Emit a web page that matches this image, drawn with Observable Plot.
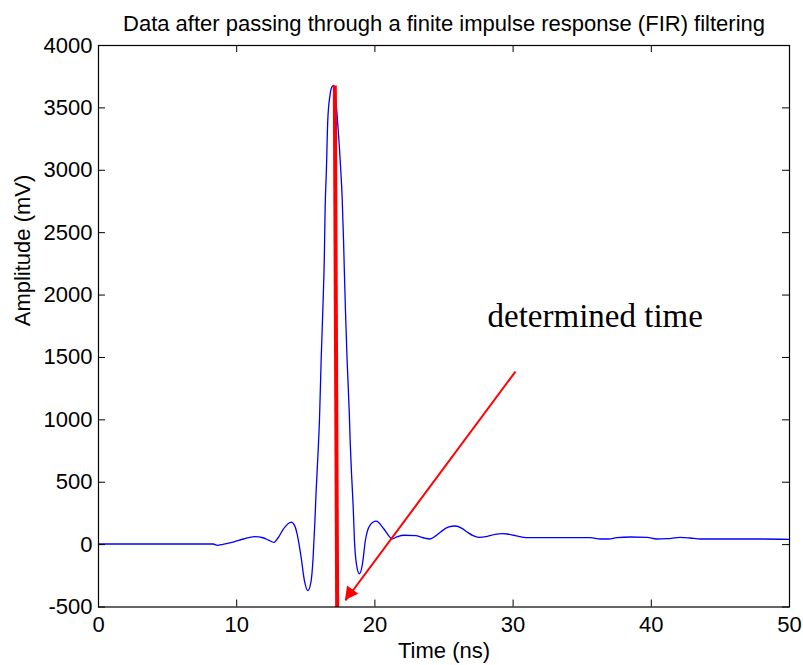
<!DOCTYPE html>
<html>
<head>
<meta charset="utf-8">
<script src="https://cdn.jsdelivr.net/npm/d3@7"></script>
<script src="https://cdn.jsdelivr.net/npm/@observablehq/plot@0.6"></script>
<style>
  body { margin: 0; background: #fff; }
  #chart svg { display: block; }
</style>
</head>
<body>
<div id="chart"></div>
<script>
// ---- data ----
const titleText = "Data after passing through a finite impulse response (FIR) filtering";
const xLabel = "Time (ns)";
const yLabel = "Amplitude (mV)";
const xTicks = [0, 10, 20, 30, 40, 50];
const yTicks = [-500, 0, 500, 1000, 1500, 2000, 2500, 3000, 3500, 4000];

const timeNs = [0, 8.3, 8.6, 9.0, 9.8, 10.5, 11.3, 11.9, 12.3, 12.7, 13.0, 13.4, 13.94, 14.2, 14.37, 14.66, 14.9, 15.15, 15.39, 15.53, 15.65, 15.75, 15.87, 15.99, 16.11, 16.23, 16.34, 16.4, 16.49, 16.59, 16.75, 16.9, 17.03, 17.12, 17.2, 17.32, 17.43, 17.53, 17.63, 17.73, 17.8, 17.87, 17.99, 18.14, 18.22, 18.31, 18.43, 18.52, 18.66, 18.88, 19.1, 19.31, 19.63, 20.09, 20.64, 21.08, 21.24, 21.6, 22.1, 22.94, 23.5, 23.97, 24.4, 24.75, 25.3, 25.83, 26.3, 26.67, 27.1, 27.52, 28.13, 28.7, 29.2, 29.6, 30.04, 30.9, 35.6, 36.3, 36.9, 37.5, 38.5, 39.7, 40.4, 41.15, 42.1, 42.8, 43.56, 45.97, 47.9, 50];
const amplitudeMv = [5, 5, -6, 2, 22, 45, 64, 55, 36, 18, 55, 128, 180, 150, 86, -101, -288, -368, -288, -101, 167, 434, 700, 1000, 1475, 1876, 2300, 2700, 3000, 3400, 3600, 3670, 3680, 3620, 3530, 3360, 3184, 3000, 2784, 2440, 2150, 1876, 1475, 1075, 800, 567, 300, 33, -154, -234, -154, 33, 153, 188, 127, 60, 46, 62, 75, 72, 55, 45, 70, 101, 140, 149, 130, 101, 72, 58, 66, 82, 88, 85, 75, 56, 56, 45, 45, 56, 61, 58, 45, 48, 58, 53, 45, 45, 45, 42];

// annotation: determined-time marker and arrow (data units)
const markerTime = [17.1, 17.27];
const markerAmp = [3680, -500];
const arrowTime = [30.17, 17.87];
const arrowAmp = [1387, -448];
const noteText = "determined time";
const noteTime = 28.15;
const noteAmp = 1742;

// ---- build ----
const W = 803, H = 665;
const mL = 98, mR = 14, mT = 45, mB = 58.5;
const plotW = W - mL - mR, plotH = H - mT - mB;
const tick = 7;

const wave = timeNs.map((t, i) => ({t, v: amplitudeMv[i]}));
const marker = [{x1: markerTime[0], y1: markerAmp[0], x2: markerTime[1], y2: markerAmp[1]}];
const arrow = [{x1: arrowTime[0], y1: arrowAmp[0], x2: arrowTime[1], y2: arrowAmp[1]}];

const sans = "'Liberation Sans', Arial, Helvetica, sans-serif";

const plot = Plot.plot({
  width: W,
  height: H,
  marginLeft: mL,
  marginRight: mR,
  marginTop: mT,
  marginBottom: mB,
  style: {fontFamily: sans, fontSize: "22px", background: "white", color: "black", overflow: "visible"},
  x: {domain: [0, 50], label: null},
  y: {domain: [-500, 4000], label: null},
  marks: [
    Plot.line(wave, {x: "t", y: "v", stroke: "#0000ff", strokeWidth: 1.3, curve: "monotone-x"}),
    Plot.link(marker, {x1: "x1", y1: "y1", x2: "x2", y2: "y2", stroke: "#ff0000", strokeWidth: 4}),
    Plot.link(arrow, {x1: "x1", y1: "y1", x2: "x2", y2: "y2", stroke: "#ff0000", strokeWidth: 2}),
    Plot.text([noteText], {x: noteTime, y: noteAmp, text: d => d, textAnchor: "start", lineAnchor: "bottom",
      fontFamily: "'Liberation Serif', 'Times New Roman', serif", fontSize: 33, fill: "black"}),
    // inward ticks on all four sides (MATLAB box style)
    Plot.ruleX(xTicks, {x: d => d, insetTop: plotH - tick, stroke: "black"}),
    Plot.ruleX(xTicks, {x: d => d, insetBottom: plotH - tick, stroke: "black"}),
    Plot.ruleY(yTicks, {y: d => d, insetRight: plotW - tick, stroke: "black"}),
    Plot.ruleY(yTicks, {y: d => d, insetLeft: plotW - tick, stroke: "black"}),
    Plot.axisX({ticks: xTicks, tickSize: 0, tickPadding: 9, label: null, fontSize: 22, tickFormat: d => String(d)}),
    Plot.axisY({ticks: yTicks, tickSize: 0, tickPadding: 6, label: null, fontSize: 22, tickFormat: d => String(d)}),
    Plot.frame({stroke: "black", strokeWidth: 1.2}),
    Plot.text([titleText], {frameAnchor: "top", dy: -15, lineAnchor: "bottom", text: d => d, fontSize: 22, fill: "black"}),
    Plot.text([xLabel], {frameAnchor: "bottom", dy: 50.5, lineAnchor: "bottom", text: d => d, fontSize: 22, fill: "black"}),
    Plot.text([yLabel], {frameAnchor: "left", dx: -76, rotate: -90, lineAnchor: "middle", text: d => d, fontSize: 22, fill: "black"})
  ]
});

// filled arrowhead, positioned through the plot's own scales
const sx = plot.scale("x"), sy = plot.scale("y");
const fx = d3.scaleLinear(sx.domain, sx.range), fy = d3.scaleLinear(sy.domain, sy.range);
const ax0 = fx(arrowTime[0]), ay0 = fy(arrowAmp[0]);
const ax1 = fx(arrowTime[1]), ay1 = fy(arrowAmp[1]);
const len = Math.hypot(ax1 - ax0, ay1 - ay0);
const ux = (ax1 - ax0) / len, uy = (ay1 - ay0) / len;
const headL = 13, headW = 7;
const bx = ax1 - headL * ux, by = ay1 - headL * uy;
const pts = [[ax1, ay1], [bx + headW * uy, by - headW * ux], [bx - headW * uy, by + headW * ux]];
d3.select(plot).append("polygon")
  .attr("points", pts.map(p => p.join(",")).join(" "))
  .attr("fill", "#ff0000");

document.getElementById("chart").appendChild(plot);
</script>
</body>
</html>
